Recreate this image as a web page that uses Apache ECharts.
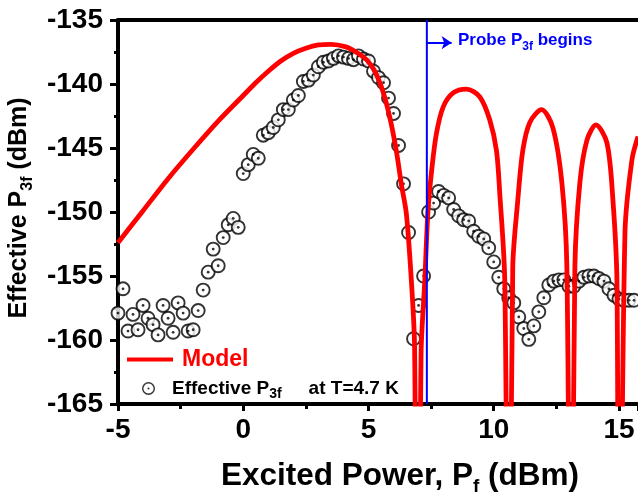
<!DOCTYPE html>
<html>
<head>
<meta charset="utf-8">
<script src="https://cdn.jsdelivr.net/npm/echarts@6/dist/echarts.min.js"></script>
<style>
  html, body { margin: 0; padding: 0; background: #fff; }
  #chart { width: 638px; height: 496px; }
</style>
</head>
<body>
<div id="chart"></div>
<script>
// Model curve: excited power (dBm) vs effective P3f (dBm); nulls dip far below the axis floor
const modelPower = [
  -5, -4, -3, -2, -1, 0, 0.5, 1, 1.5, 2, 2.5, 3, 3.5, 4.1, 4.5, 4.92, 5.25, 5.58, 5.85, 6.11,
  6.31, 6.51, 6.71, 6.84, 6.95, 7.1, 7.25, 7.37, 7.52, 7.71, 7.98, 8.38, 8.91, 9.44, 9.84,
  10.11, 10.24, 10.44, 10.6, 10.76, 10.96, 11.16, 11.44, 11.91, 12.36, 12.72, 12.92, 13.08,
  13.24, 13.44, 13.72, 14.08, 14.52, 14.76, 14.92, 15.0, 15.24, 15.52, 15.76
];
const modelP3f = [
  -152.4, -149.9, -147.4, -145.1, -142.9, -140.9, -139.9, -139.0, -138.2, -137.6, -137.2, -136.95, -136.9, -137.1, -137.5, -138.1, -139.0, -140.6, -142.6, -145.2,
  -147.8, -150.1, -155.3, -160.5, -190, -161, -155.3, -150.1, -146.8, -143.9, -141.8, -140.7, -140.4, -141.0, -142.8,
  -145.2, -148.5, -155.3, -190, -154.3, -149.1, -145.2, -143.0, -142.0, -143.4, -147.7, -154.3, -190,
  -154.3, -147.7, -144.4, -143.2, -144.6, -149.1, -155.5, -190, -151.6, -145.9, -144.1
];

// Measured effective P3f at T = 4.7 K
const measPower = [
  -5.0, -4.8, -4.6, -4.4, -4.2, -4.0, -3.8, -3.6, -3.4, -3.2, -3.0, -2.8, -2.6, -2.4, -2.2, -2.0, -1.8, -1.6, -1.4, -1.2,
  -1.0, -0.8, -0.6, -0.4, -0.2, 0.0, 0.2, 0.4, 0.6, 0.8, 1.0, 1.2, 1.4, 1.6, 1.8, 2.0, 2.2, 2.4, 2.6, 2.8,
  3.0, 3.2, 3.4, 3.6, 3.8, 4.0, 4.2, 4.4, 4.6, 4.8, 5.0, 5.2, 5.4, 5.6, 5.8, 6.0, 6.2, 6.4, 6.6, 6.8,
  7.0, 7.2, 7.4, 7.6, 7.8, 8.0, 8.2, 8.4, 8.6, 8.8, 9.0, 9.2, 9.4, 9.6, 9.8, 10.0, 10.2, 10.4, 10.6, 10.8,
  11.0, 11.2, 11.4, 11.6, 11.8, 12.0, 12.2, 12.4, 12.6, 12.8, 13.0, 13.2, 13.4, 13.6, 13.8, 14.0, 14.2, 14.4, 14.6, 14.8,
  15.0, 15.2, 15.4, 15.6
];
const measP3f = [
  -157.9, -156.0, -159.3, -158.0, -159.2, -157.3, -158.3, -158.8, -159.6, -157.3, -158.3, -159.4, -157.1, -157.9, -159.3, -159.2, -157.7, -156.1, -154.7, -152.9,
  -154.2, -152.0, -151.0, -150.5, -151.2, -147.0, -146.3, -145.5, -145.8, -144.0, -143.8, -143.4, -142.8, -142.0, -142.0, -141.25, -140.9, -139.8, -139.7, -139.3,
  -138.65, -138.3, -138.2, -138.0, -137.8, -137.9, -138.0, -138.1, -137.8, -138.05, -138.2, -139.0, -139.5, -139.9, -141.1, -142.3, -144.8, -147.8, -151.6, -159.9,
  -157.3, -155.0, -150.0, -149.3, -148.4, -148.7, -148.9, -149.8, -150.3, -150.6, -150.7, -151.5, -151.9, -152.1, -152.8, -153.9, -155.1, -156.0, -156.7, -157.1,
  -158.2, -159.1, -159.95, -158.9, -157.8, -156.7, -155.7, -155.4, -155.3, -155.3, -155.8, -155.8, -155.4, -155.1, -155.0, -155.0, -155.2, -155.4, -156.0, -156.5,
  -156.8, -156.9, -156.9, -156.9
];

// Power at which the probe P3f starts, and the end of its arrow
const probeStart = 7.33;
const probeArrow = { toPower: 8.32, level: -136.77 };
const xTicks = { min: -5, max: 15.76, step: 5 };
const yTicks = { min: -165, max: -135, step: 5 };

const FONT = "'Liberation Sans', Arial, Helvetica, sans-serif";
const pairs = (xs, ys) => xs.map((x, i) => [x, ys[i]]);
const measData = pairs(measPower, measP3f);

// ring with a centre dot, used as the legend marker for the measured points
const ringIcon = 'path://M0,10A10,10,0,1,1,20,10A10,10,0,1,1,0,10Z' +
  'M2.2,10A7.8,7.8,0,1,0,17.8,10A7.8,7.8,0,1,0,2.2,10Z' +
  'M8.4,10A1.6,1.6,0,1,1,11.6,10A1.6,1.6,0,1,1,8.4,10Z';

const chart = echarts.init(document.getElementById('chart'), null, { renderer: 'canvas' });

const axisLineStyle = { color: '#000', width: 4 };
const tickStyle = { color: '#000', width: 3 };

chart.setOption({
  animation: false,
  backgroundColor: '#fff',
  textStyle: { fontFamily: FONT },
  grid: { left: 118, right: 0, top: 20, bottom: 92, containLabel: false, outerBoundsMode: 'none' },
  legend: [
    {
      data: [{ name: 'Model', icon: 'rect' }],
      left: 122, top: 343,
      itemWidth: 46, itemHeight: 4,
      selectedMode: false,
      textStyle: { fontFamily: FONT, fontSize: 23, fontWeight: 'bold', color: '#ff0000', padding: [0, 0, 0, 4] }
    },
    {
      data: [{ name: 'Effective P3f', icon: ringIcon, itemStyle: { color: '#000', borderWidth: 0 } }],
      left: 137, top: 374,
      itemWidth: 13, itemHeight: 13,
      selectedMode: false,
      formatter: () => '{a|Effective P}{s|3f}{b|at T=4.7 K}',
      textStyle: {
        fontFamily: FONT, color: '#000',
        rich: {
          a: { fontFamily: FONT, fontSize: 19, fontWeight: 'bold', color: '#000', padding: [0, 0, 0, 12], lineHeight: 26 },
          s: { fontFamily: FONT, fontSize: 14, fontWeight: 'bold', color: '#000', verticalAlign: 'bottom', lineHeight: 26 },
          b: { fontFamily: FONT, fontSize: 19, fontWeight: 'bold', color: '#000', padding: [0, 0, 0, 27], lineHeight: 26 }
        }
      }
    }
  ],
  xAxis: [
    {
      type: 'value', position: 'bottom',
      min: xTicks.min, max: xTicks.max, interval: xTicks.step,
      axisLine: { show: true, onZero: false, lineStyle: axisLineStyle },
      axisTick: { show: true, inside: false, length: 7, lineStyle: tickStyle },
      minorTick: { show: true, splitNumber: 2, length: 5, lineStyle: tickStyle },
      splitLine: { show: false },
      axisLabel: { fontFamily: FONT, fontSize: 28, fontWeight: 'bold', color: '#000', margin: 12, showMaxLabel: false },
      name: '{t|Excited Power, P}{s|f}{t| (dBm)}',
      nameLocation: 'middle', nameGap: 52,
      nameTextStyle: {
        padding: [0, 0, 0, 44],
        rich: {
          t: { fontFamily: FONT, fontSize: 31.5, fontWeight: 'bold', color: '#000', lineHeight: 40 },
          s: { fontFamily: FONT, fontSize: 19, fontWeight: 'bold', color: '#000', verticalAlign: 'bottom', lineHeight: 40 }
        }
      }
    },
    {
      type: 'value', position: 'top',
      min: xTicks.min, max: xTicks.max, interval: xTicks.step,
      axisLine: { show: true, onZero: false, lineStyle: axisLineStyle },
      axisTick: { show: false }, axisLabel: { show: false }, splitLine: { show: false }
    }
  ],
  yAxis: {
    type: 'value',
    min: yTicks.min, max: yTicks.max, interval: yTicks.step,
    axisLine: { show: true, onZero: false, lineStyle: axisLineStyle },
    axisTick: { show: true, inside: false, length: 8, lineStyle: tickStyle },
    minorTick: { show: true, splitNumber: 2, length: 4, lineStyle: tickStyle },
    splitLine: { show: false },
    axisLabel: { fontFamily: FONT, fontSize: 28, fontWeight: 'bold', color: '#000', margin: 15 },
    name: '{t|Effective P}{s|3f}{t| (dBm)}',
    nameLocation: 'middle', nameRotate: 90, nameGap: 80,
    nameTextStyle: {
      padding: [0, 0, 0, 8],
      rich: {
        t: { fontFamily: FONT, fontSize: 25, fontWeight: 'bold', color: '#000', lineHeight: 34 },
        s: { fontFamily: FONT, fontSize: 16, fontWeight: 'bold', color: '#000', verticalAlign: 'bottom', lineHeight: 34 }
      }
    }
  },
  series: [
    {
      name: 'Effective P3f', type: 'scatter', z: 2,
      data: measData,
      symbol: 'circle', symbolSize: 13,
      itemStyle: { color: '#fff', borderColor: '#000', borderWidth: 1.9 }
    },
    {
      name: 'centre dots', type: 'scatter', z: 3, silent: true,
      data: measData,
      symbol: 'circle', symbolSize: 2.8,
      itemStyle: { color: '#000' }
    },
    {
      name: 'Model', type: 'line', z: 4,
      data: pairs(modelPower, modelP3f),
      showSymbol: false, symbol: 'none',
      smooth: 0.3,
      clip: true,
      lineStyle: { color: '#ff0000', width: 4.8 },
      itemStyle: { color: '#ff0000' }
    },
    {
      name: 'probe start', type: 'line', z: 5,
      data: [[probeStart, yTicks.max], [probeStart, yTicks.min]],
      symbol: 'none',
      lineStyle: { color: '#0000ff', width: 2 },
      markLine: {
        silent: true,
        symbol: ['none', 'arrow'], symbolSize: 10,
        label: { show: false },
        lineStyle: { color: '#0000ff', width: 2, type: 'solid' },
        data: [[{ coord: [probeStart, probeArrow.level] }, { coord: [probeArrow.toPower, probeArrow.level] }]]
      }
    }
  ],
  graphic: [
    {
      type: 'text', left: 458, top: 32, z: 10,
      style: {
        text: '{a|Probe P}{s|3f}{a| begins}',
        rich: {
          a: { fontFamily: FONT, fontSize: 17, fontWeight: 'bold', fill: '#0000ff', lineHeight: 24 },
          s: { fontFamily: FONT, fontSize: 12, fontWeight: 'bold', fill: '#0000ff', verticalAlign: 'bottom', lineHeight: 24 }
        }
      }
    }
  ]
});
</script>
</body>
</html>
